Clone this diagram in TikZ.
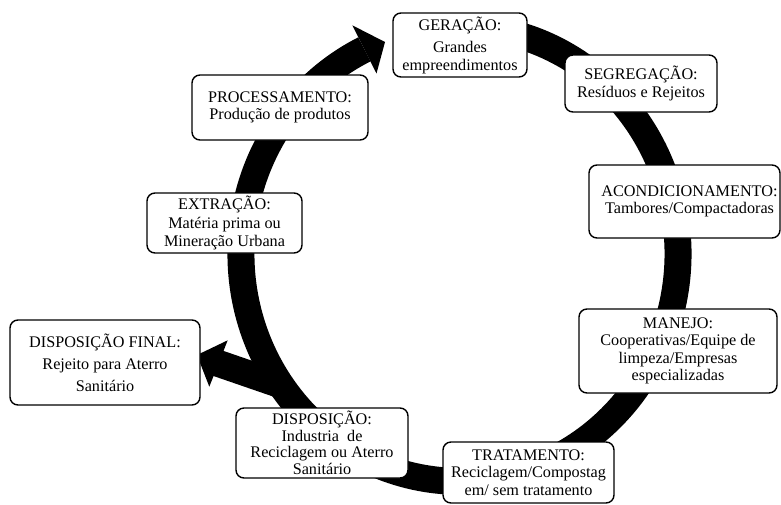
\documentclass[tikz,border=0pt]{standalone}
\usepackage{fontspec}
\setmainfont{Liberation Serif}
\usetikzlibrary{calc}

\begin{document}
\begin{tikzpicture}[x=1pt,y=1pt,
  stagebox/.style={draw=black, line width=1.4pt, rounded corners=8pt, fill=white,
    align=center, inner sep=0pt,
    font=\fontsize{16.2}{17.5}\selectfont},
  band/.style={line width=27pt, black}
]
\useasboundingbox (0,0) rectangle (781,-504);

% the cycle ring (ellipse centre and radii)
\coordinate (c) at (459.5,-254);
\draw[band] ($(c)+(75:218.5pt and 227.3pt)$)
  arc[start angle=75, end angle=-244.2, x radius=218.5pt, y radius=227.3pt];

% arrowhead closing the cycle at the top
\coordinate (tipA) at (385,-42);
\coordinate (barbA1) at (352.3,-25.3);
\coordinate (barbA2) at (376.5,-73.5);
\fill[black] (barbA1) -- (tipA) -- (barbA2) -- cycle;

% branch towards final disposal
\coordinate (branchS) at (281,-385);
\coordinate (branchE) at (216,-362.6);
\draw[band] (branchS) -- (branchE);
\coordinate (tipB) at (197,-355);
\coordinate (barbB1) at (227.7,-340.3);
\coordinate (barbB2) at (209.3,-386.7);
\fill[black] (barbB1) -- (tipB) -- (barbB2) -- cycle;

% stages
\node[stagebox, minimum width=134pt, minimum height=64pt] (ger) at (460,-45)
  {GERAÇÃO:\\[5pt]Grandes\\empreendimentos};
\node[stagebox, minimum width=152pt, minimum height=57pt] (seg) at (641,-83.5)
  {SEGREGAÇÃO:\\Resíduos e Rejeitos};
\node[stagebox, minimum width=191pt, minimum height=73pt] (aco) at (684.5,-201.5)
  {\hspace*{10pt}ACONDICIONAMENTO:\\\hspace*{10pt}Tambores/Compactadoras};
\node[stagebox, minimum width=198pt, minimum height=84pt] (man) at (678,-351)
  {MANEJO:\\Cooperativas/Equipe de\\limpeza/Empresas\\especializadas};
\node[stagebox, minimum width=171pt, minimum height=61pt] (tra) at (528.5,-472.5)
  {TRATAMENTO:\\Reciclagem/Compostag\\em/ sem tratamento};
\node[stagebox, minimum width=172pt, minimum height=70pt] (dis) at (322,-443)
  {DISPOSIÇÃO:\\[-1pt]Industria\ \ de\\[-1pt]Reciclagem ou Aterro\\[-1pt]Sanitário};
\node[stagebox, minimum width=190pt, minimum height=85pt] (fin) at (105,-362.5)
  {DISPOSIÇÃO FINAL:\\[5pt]Rejeito para Aterro\\[4pt]Sanitário};
\node[stagebox, minimum width=155pt, minimum height=60pt] (ext) at (224.5,-223)
  {EXTRAÇÃO:\\[1pt]Matéria prima ou\\[1pt]Mineração Urbana};
\node[stagebox, minimum width=176pt, minimum height=65pt] (pro) at (280,-107.5)
  {PROCESSAMENTO:\\Produção de produtos};
\end{tikzpicture}
\end{document}
